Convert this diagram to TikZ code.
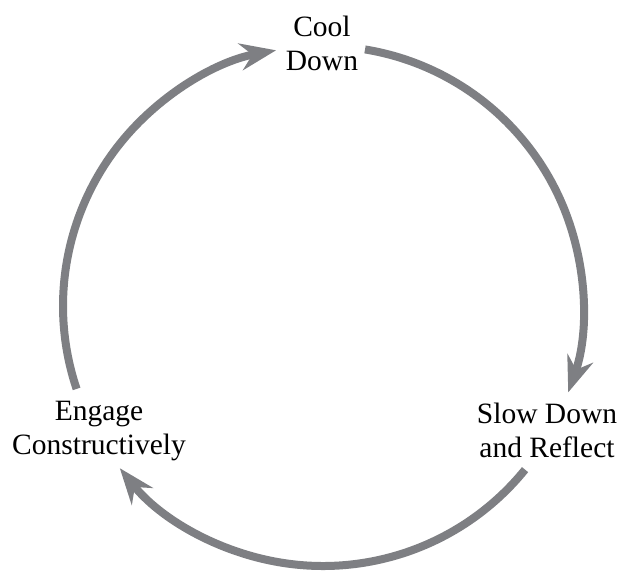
\documentclass[tikz,border=0pt]{standalone}
\usepackage{fontspec}
\setmainfont{Liberation Serif}
\usetikzlibrary{arrows.meta}
\definecolor{cyclegray}{RGB}{126,127,131}
\begin{document}
\begin{tikzpicture}[x=1pt,y=1pt,
  lbl/.style={align=center,inner sep=0pt,font=\fontsize{29.5}{34}\selectfont,text=black},
  cyc/.style={draw=cyclegray,line width=8pt,-{Stealth[length=36pt,width=27pt,inset=12pt]}}]
\useasboundingbox (0,0) rectangle (619,-571);
\coordinate (c) at (323,-306);
\node[lbl] (cool) at (322,-43) {Cool\\Down};
\node[lbl] (slow) at (547,-430) {Slow Down\\and Reflect};
\node[lbl] (eng) at (99,-431) {Engage\\Constructively};
\draw[cyc] ([shift={(80.7:260)}]c) arc[start angle=80.7,end angle=-19.4,radius=260];
\draw[cyc] ([shift={(-39:260)}]c) arc[start angle=-39,end angle=-141.4,radius=260];
\draw[cyc] ([shift={(198.6:260)}]c) arc[start angle=198.6,end angle=100.4,radius=260];
\end{tikzpicture}
\end{document}
